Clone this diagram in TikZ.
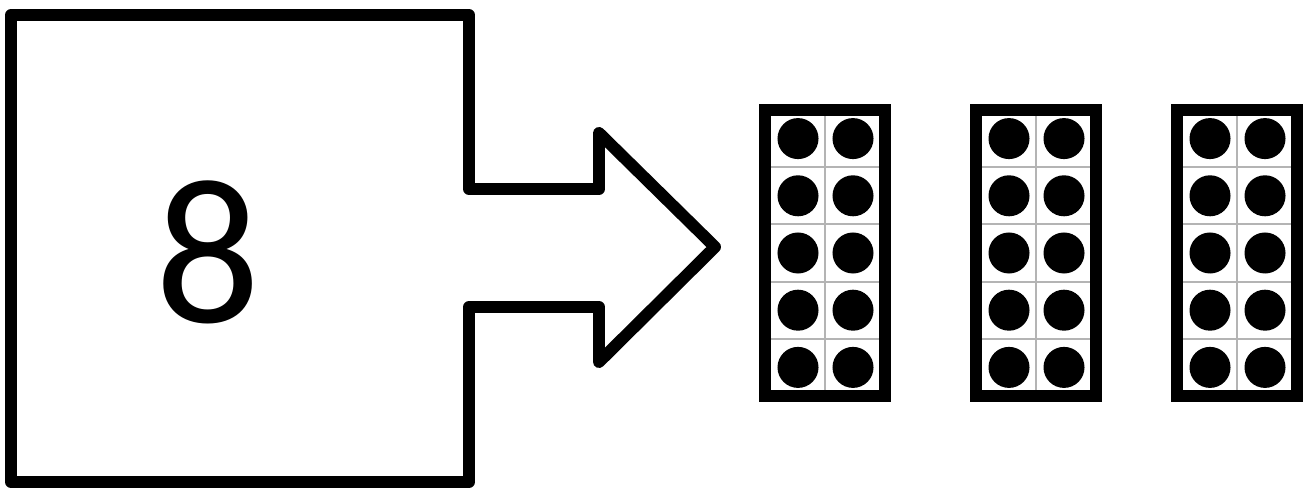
\documentclass[tikz,border=0pt]{standalone}
\usepackage{fontspec}
\newfontfamily\numfont{Carlito}
\definecolor{Gridgray}{HTML}{B4B4B4}

\begin{document}
\begin{tikzpicture}[x=0.01cm,y=-0.01cm]
			\useasboundingbox (0,0) rectangle (1306,489);
			% box with the arrow
			\draw[line width=3.4pt,line join=round]
			(11,15)--(469,15)--(469,189)--(599,189)--(599,133)--(715,247)
			--(599,362)--(599,307)--(469,307)--(469,482)--(11,482)--cycle;
			\node[font=\numfont\fontsize{59}{59}\selectfont,inner sep=0pt] (eight) at (208,252) {8};
			% ten frames
			\foreach \fx in {765,976,1177}{
					\foreach \k in {1,...,4}{
							\draw[Gridgray,line width=0.6pt]
							(\fx,110+57.2*\k)--(\fx+120,110+57.2*\k);}
					\draw[Gridgray,line width=0.6pt] (\fx+60,110)--(\fx+60,396);
					\foreach \r in {0,...,4}{
							\fill (\fx+33,138.6+57.2*\r) circle (0.205cm);
							\fill (\fx+88,138.6+57.2*\r) circle (0.205cm);}
					\draw[line width=3.4pt] (\fx,110) rectangle (\fx+120,396);}
		\end{tikzpicture}
\end{document}
